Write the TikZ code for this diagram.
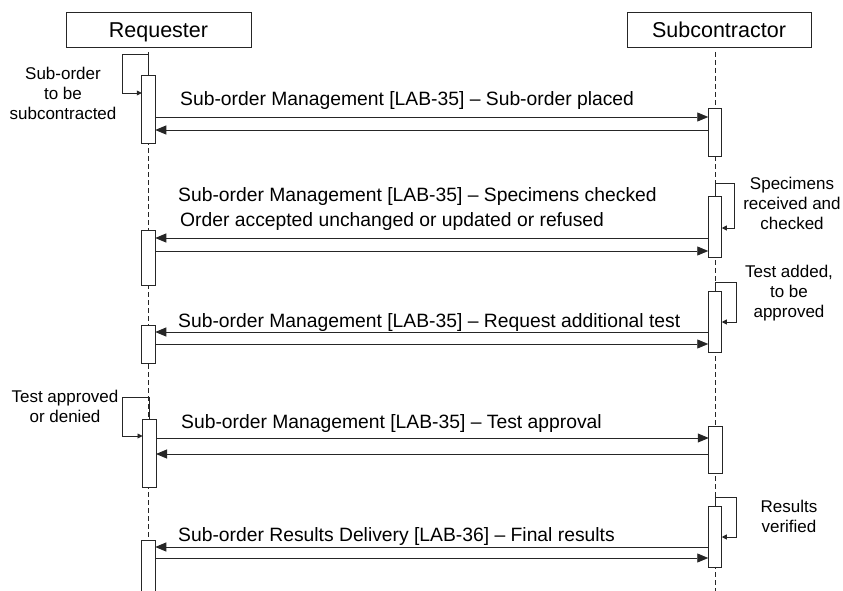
\documentclass[tikz,border=0pt]{standalone}
\usepackage{fontspec}
\setmainfont{Liberation Sans}
\usetikzlibrary{arrows.meta}
\begin{document}
\begin{tikzpicture}[x=1pt,y=-1pt,
  ln/.style={line width=0.9pt, draw=black!85},
  hdr/.style={draw=black!85, line width=0.9pt, anchor=north west, inner sep=0pt, outer sep=0pt,
    minimum width=185pt, minimum height=35pt, font=\fontsize{21.5}{24}\selectfont,
    text height=15.5pt, text depth=0pt},
  act/.style={draw=black!85, fill=white, line width=0.9pt, anchor=north west, inner sep=0pt,
    outer sep=0pt, minimum width=13.5pt},
  life/.style={line width=0.8pt, draw=black!85, dash pattern=on 5pt off 3pt},
  msg/.style={ln, -{Triangle[length=11pt,width=9pt]}},
  selfloop/.style={ln, -{Triangle[length=5pt,width=5pt]}},
  lbl/.style={anchor=base west, inner sep=0pt, font=\fontsize{19.3}{22}\selectfont},
  note/.style={anchor=base, inner sep=0pt, font=\fontsize{17}{20}\selectfont}
]
\useasboundingbox (0,0) rectangle (843,591);
\clip (0,0) rectangle (843,591);

% headers
\node[hdr] (req) at (66,12) {Requester};
\node[hdr, minimum width=184pt] (sub) at (627,12) {Subcontractor};

% lifelines
\coordinate (rl0) at (148.5,52);
\coordinate (rl1) at (148.5,595);
\coordinate (sl0) at (715,52);
\coordinate (sl1) at (715,595);
\draw[life] (rl0) -- (rl1);
\draw[life] (sl0) -- (sl1);

% activation boxes
\node[act, minimum height=68pt] (r1) at (141.75,75) {};
\node[act, minimum height=48pt] (s1) at (708.25,108) {};
\node[act, minimum height=61pt] (s2) at (708.25,196) {};
\node[act, minimum height=55pt] (r2) at (141.75,230) {};
\node[act, minimum height=61pt] (s3) at (708.25,291) {};
\node[act, minimum height=38pt] (r3) at (141.75,325) {};
\node[act, minimum height=68pt] (r4) at (142.5,419) {};
\node[act, minimum height=47pt] (s4) at (708.75,426) {};
\node[act, minimum height=61pt] (s5) at (708.25,506) {};
\node[act, minimum height=60pt] (r5) at (141.75,540) {};

% message levels
\coordinate (m1a) at (0,117);
\coordinate (m1b) at (0,130);
\coordinate (m2a) at (0,238);
\coordinate (m2b) at (0,251);
\coordinate (m3a) at (0,332);
\coordinate (m3b) at (0,344);
\coordinate (m4a) at (0,438);
\coordinate (m4b) at (0,454);
\coordinate (m5a) at (0,547);
\coordinate (m5b) at (0,558);

% messages
\draw[msg] (r1.east |- m1a) -- (s1.west |- m1a);
\draw[msg] (s1.west |- m1b) -- (r1.east |- m1b);
\draw[msg] (s2.west |- m2a) -- (r2.east |- m2a);
\draw[msg] (r2.east |- m2b) -- (s2.west |- m2b);
\draw[msg] (s3.west |- m3a) -- (r3.east |- m3a);
\draw[msg] (r3.east |- m3b) -- (s3.west |- m3b);
\draw[msg] (r4.east |- m4a) -- (s4.west |- m4a);
\draw[msg] (s4.west |- m4b) -- (r4.east |- m4b);
\draw[msg] (s5.west |- m5a) -- (r5.east |- m5a);
\draw[msg] (r5.east |- m5b) -- (s5.west |- m5b);

% self loops
\coordinate (l1) at (0,93);
\coordinate (l2) at (0,228);
\coordinate (l3) at (0,322);
\coordinate (l4) at (0,436);
\coordinate (l5) at (0,537);
\draw[selfloop] (r1.north) -- ++(0,-21) -- (122,54) |- (r1.west |- l1);
\draw[selfloop] (s2.north) -- (715,183) -- (734,183) |- (s2.east |- l2);
\draw[selfloop] (s3.north) -- (715,282) -- (736,282) |- (s3.east |- l3);
\draw[selfloop] (r4.north) -- (149.25,397) -- (122,397) |- (r4.west |- l4);
\draw[selfloop] (s5.north) -- (715,497) -- (736,497) |- (s5.east |- l5);

% message labels
\node[lbl] (t1) at (180,106) {Sub-order Management [LAB-35] – Sub-order placed};
\node[lbl] (t2a) at (178,201) {Sub-order Management [LAB-35] – Specimens checked};
\node[lbl] (t2b) at (180,226) {Order accepted unchanged or updated or refused};
\node[lbl] (t3) at (178,327) {Sub-order Management [LAB-35] – Request additional test};
\node[lbl] (t4) at (181,428) {Sub-order Management [LAB-35] – Test approval};
\node[lbl] (t5) at (178,541) {Sub-order Results Delivery [LAB-36] – Final results};

% notes
\node[note] (n1a) at (63,80) {Sub-order};
\node[note] (n1b) at (63,100) {to be};
\node[note] (n1c) at (63,120) {subcontracted};
\node[note] (n2a) at (792,189) {Specimens};
\node[note] (n2b) at (792,209) {received and};
\node[note] (n2c) at (792,229) {checked};
\node[note] (n3a) at (789,277) {Test added,};
\node[note] (n3b) at (789,297) {to be};
\node[note] (n3c) at (789,317) {approved};
\node[note] (n4a) at (65,402) {Test approved};
\node[note] (n4b) at (65,422) {or denied};
\node[note] (n5a) at (789,512) {Results};
\node[note] (n5b) at (789,532) {verified};
\end{tikzpicture}
\end{document}
